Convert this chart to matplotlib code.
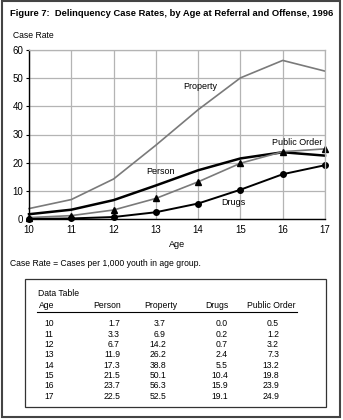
import matplotlib
matplotlib.use("Agg")
import matplotlib.pyplot as plt
from matplotlib.patches import Rectangle
from matplotlib.lines import Line2D

plt.rcParams['font.family'] = ['Liberation Sans', 'DejaVu Sans']

# Data
ages = [10, 11, 12, 13, 14, 15, 16, 17]
person = [1.7, 3.3, 6.7, 11.9, 17.3, 21.5, 23.7, 22.5]
property_ = [3.7, 6.9, 14.2, 26.2, 38.8, 50.1, 56.3, 52.5]
drugs = [0.0, 0.2, 0.7, 2.4, 5.5, 10.4, 15.9, 19.1]
public_order = [0.5, 1.2, 3.2, 7.3, 13.2, 19.8, 23.9, 24.9]

W, H = 343, 420
fig = plt.figure(figsize=(W / 100, H / 100), dpi=100)


def fx(px):
    return px / W


def fy(py):
    return 1 - py / H


# axes: age 10 at x=29, 17 at x=325; 60 at y=50, 0 at y=219
ax = fig.add_axes([fx(29), fy(219), fx(325) - fx(29), (219 - 50) / H])
ax.set_xlim(10, 17)
ax.set_ylim(0, 60)
ax.grid(True, color='#b4b4b4', lw=0.9)
ax.set_axisbelow(True)
for s in ['top', 'right']:
    ax.spines[s].set_color('#b4b4b4')
    ax.spines[s].set_linewidth(0.9)
for s in ['left', 'bottom']:
    ax.spines[s].set_color('black')
    ax.spines[s].set_linewidth(1.0)

ax.plot(ages, property_, color='#7a7a7a', lw=1.2, clip_on=False)
ax.plot(ages, person, color='black', lw=1.8, clip_on=False)
ax.plot(ages, public_order, color='#7a7a7a', lw=1.2, marker='^',
        mfc='black', mec='black', ms=4.5, clip_on=False)
ax.plot(ages, drugs, color='black', lw=1.4, marker='o',
        mfc='black', mec='black', ms=4, clip_on=False)

ax.set_xticks(ages)
ax.set_yticks(range(0, 61, 10))
ax.tick_params(axis='x', length=0, labelsize=7, pad=4)
ax.tick_params(axis='y', length=2.5, width=0.8, labelsize=7, pad=1.5)
ax.set_xlabel('Age', fontsize=6.5, labelpad=4)

ax.text(14.04, 46.9, 'Property', fontsize=6.5, ha='center', va='center')
ax.text(13.12, 16.7, 'Person', fontsize=6.5, ha='center', va='center')
ax.text(16.33, 27.3, 'Public Order', fontsize=6.5, ha='center', va='center')
ax.text(14.83, 5.7, 'Drugs', fontsize=6.5, ha='center', va='center')

fig.text(fx(10), fy(14), 'Figure 7:  Delinquency Case Rates, by Age at Referral and Offense, 1996',
         fontsize=6.75, fontweight='bold', ha='left', va='center')
fig.text(fx(13), fy(35), 'Case Rate', fontsize=6.2, ha='left', va='center')
fig.text(fx(10), fy(264), 'Case Rate = Cases per 1,000 youth in age group.',
         fontsize=6.2, ha='left', va='center')

# outer frame
fig.patches.append(Rectangle((fx(1.5), fy(417)), fx(338.5), (417 - 1) / H,
                             transform=fig.transFigure, fill=False,
                             edgecolor='#444444', lw=1.5))
# table box
fig.patches.append(Rectangle((fx(25), fy(407)), fx(301), (407 - 279) / H,
                             transform=fig.transFigure, fill=False,
                             edgecolor='#333333', lw=0.9))

fs = 6.2
fig.text(fx(38), fy(293), 'Data Table', fontsize=fs, ha='left', va='center')
headers = ['Age', 'Person', 'Property', 'Drugs', 'Public Order']
header_x = [39, 93, 144, 205, 247]
for h, x in zip(headers, header_x):
    fig.text(fx(x), fy(305), h, fontsize=fs, ha='left', va='center')
fig.lines.append(Line2D([fx(37), fx(297)], [fy(311.5), fy(311.5)],
                        transform=fig.transFigure, color='black', lw=0.8))

col_right = [120, 166, 228, 279]
for i, a in enumerate(ages):
    y = 324 + i * 10.3
    fig.text(fx(44), fy(y), str(a), fontsize=fs, ha='left', va='center')
    for vals, xr in zip([person, property_, drugs, public_order], col_right):
        fig.text(fx(xr), fy(y), f'{vals[i]:.1f}', fontsize=fs, ha='right', va='center')

fig.savefig('out.png', dpi=100)
